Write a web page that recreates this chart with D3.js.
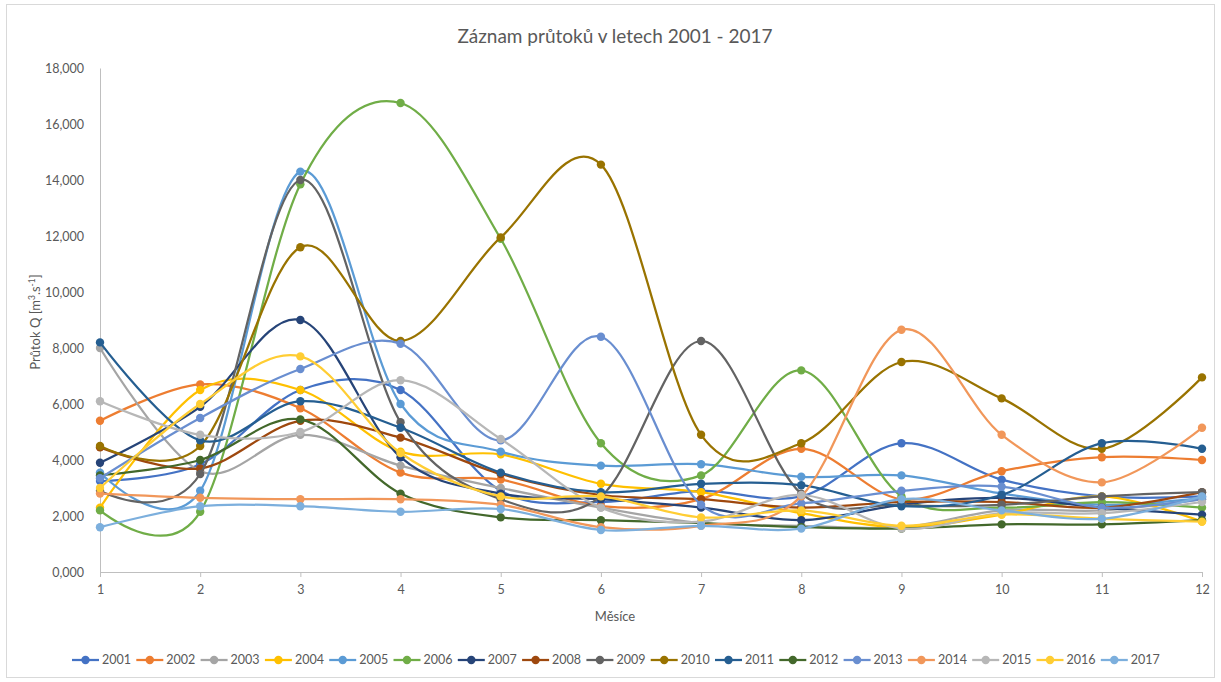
<!DOCTYPE html>
<html><head><meta charset="utf-8">
<script src="https://cdn.jsdelivr.net/npm/d3@7"></script>
<style>
body{margin:0;background:#fff}
svg{display:block}
text{font-family:Lato,"Open Sans",sans-serif}
</style>
</head><body>
<svg id="c" width="1221" height="682"></svg>
<script>
// ---- data ----
const months = [1,2,3,4,5,6,7,8,9,10,11,12];
const yTicks = [0,2,4,6,8,10,12,14,16,18];
const years = ["2001","2002","2003","2004","2005","2006","2007","2008","2009","2010","2011","2012","2013","2014","2015","2016","2017"];
const s2001 = [3.25, 3.85, 6.5, 6.5, 2.9, 2.5, 2.9, 2.7, 4.6, 3.3, 2.7, 2.7];
const s2002 = [5.4, 6.7, 5.85, 3.55, 3.3, 2.35, 2.6, 4.4, 2.6, 3.6, 4.1, 4.0];
const s2003 = [8.0, 3.6, 4.9, 3.8, 3.0, 2.3, 1.75, 1.65, 1.6, 2.2, 2.2, 2.6];
const s2004 = [2.3, 6.5, 6.5, 4.3, 4.2, 3.15, 2.85, 2.1, 1.6, 2.05, 2.7, 1.8];
const s2005 = [3.55, 2.9, 14.3, 6.0, 4.3, 3.8, 3.85, 3.4, 3.45, 2.8, 2.4, 2.65];
const s2006 = [2.2, 2.15, 13.85, 16.75, 11.9, 4.6, 3.45, 7.2, 2.7, 2.3, 2.5, 2.3];
const s2007 = [3.9, 5.9, 9.0, 4.1, 2.8, 2.6, 2.3, 1.85, 2.4, 2.65, 2.3, 2.05];
const s2008 = [4.45, 3.7, 5.4, 4.8, 3.5, 2.75, 2.6, 2.3, 2.5, 2.5, 2.3, 2.85];
const s2009 = [2.9, 3.5, 14.0, 5.35, 2.6, 2.7, 8.25, 2.8, 2.4, 2.4, 2.7, 2.85];
const s2010 = [4.5, 4.5, 11.6, 8.25, 11.95, 14.55, 4.9, 4.6, 7.5, 6.2, 4.4, 6.95];
const s2011 = [8.2, 4.7, 6.1, 5.15, 3.55, 2.85, 3.15, 3.1, 2.35, 2.75, 4.6, 4.4];
const s2012 = [3.45, 4.0, 5.45, 2.8, 1.95, 1.85, 1.75, 1.6, 1.55, 1.7, 1.7, 1.85];
const s2013 = [3.35, 5.5, 7.25, 8.15, 4.7, 8.4, 2.4, 2.45, 2.9, 3.05, 2.3, 2.6];
const s2014 = [2.8, 2.65, 2.6, 2.6, 2.4, 1.6, 1.65, 2.7, 8.65, 4.9, 3.2, 5.15];
const s2015 = [6.1, 4.9, 5.0, 6.85, 4.75, 2.3, 1.8, 2.75, 1.55, 2.1, 2.1, 2.5];
const s2016 = [3.0, 6.0, 7.7, 4.25, 2.7, 2.7, 1.95, 2.2, 1.65, 2.05, 1.9, 1.8];
const s2017 = [1.6, 2.35, 2.35, 2.15, 2.25, 1.5, 1.65, 1.55, 2.6, 2.2, 1.9, 2.7];
const seriesValues = [s2001,s2002,s2003,s2004,s2005,s2006,s2007,s2008,s2009,s2010,s2011,s2012,s2013,s2014,s2015,s2016,s2017];
const colors = ["#4472C4","#ED7D31","#A5A5A5","#FFC000","#5B9BD5","#70AD47","#264478","#9E480E","#636363","#997300","#255E91","#43682B","#698ED0","#F1975A","#B7B7B7","#FFCD33","#7CAFDD"];

// ---- chart ----
const svg = d3.select("#c");
const W = 1221, H = 682;
svg.append("rect").attr("x",6.5).attr("y",4.5).attr("width",1208).attr("height",673)
  .attr("fill","#fff").attr("stroke","#D9D9D9");

const x = d3.scaleLinear().domain([1,12]).range([100,1202]);
const y = d3.scaleLinear().domain([0,18]).range([572,68]);
const cz = d3.formatLocale({decimal:",", thousands:"\u00a0", grouping:[3], currency:["","\u00a0Kč"]});
const fmt = cz.format(".3f");

// title
svg.append("text").attr("x",615).attr("y",43).attr("text-anchor","middle")
  .attr("font-size",19).attr("fill","#595959").text("Záznam průtoků v letech 2001 - 2017");

// y axis
const yAxis = svg.append("g").attr("transform","translate(100,0)")
  .call(d3.axisLeft(y).tickValues(yTicks).tickFormat(fmt).tickSize(0).tickPadding(16));
yAxis.select(".domain").attr("stroke","#BFBFBF");
yAxis.selectAll("text").attr("font-size",12.5).attr("fill","#595959").attr("font-family","Lato, sans-serif");

// x axis
const xAxis = svg.append("g").attr("transform","translate(0,572)")
  .call(d3.axisBottom(x).tickValues(months).tickFormat(d3.format("d")).tickSize(5).tickSizeOuter(0).tickPadding(8));
xAxis.select(".domain").attr("stroke","#BFBFBF");
xAxis.selectAll("line").attr("stroke","#BFBFBF");
xAxis.selectAll("text").attr("font-size",12.5).attr("fill","#595959").attr("font-family","Lato, sans-serif");

// axis titles
const yt = svg.append("text").attr("transform","translate(40,322) rotate(-90)")
  .attr("text-anchor","middle").attr("font-size",13).attr("fill","#595959");
yt.append("tspan").text("Průtok Q [m");
yt.append("tspan").attr("dy",-5).attr("font-size",8.5).text("3");
yt.append("tspan").attr("dy",5).text(".s");
yt.append("tspan").attr("dy",-5).attr("font-size",8.5).text("-1");
yt.append("tspan").attr("dy",5).text("]");

svg.append("text").attr("x",615).attr("y",621).attr("text-anchor","middle")
  .attr("font-size",13).attr("fill","#595959").text("Měsíce");

// series
const line = d3.line().x((d,i)=>x(months[i])).y(d=>y(d)).curve(d3.curveCardinal.tension(0));
const gS = svg.append("g");
seriesValues.forEach((vals,k)=>{
  const g = gS.append("g");
  g.append("path").datum(vals).attr("d",line).attr("fill","none")
    .attr("stroke",colors[k]).attr("stroke-width",2.25);
  g.selectAll("circle").data(vals).join("circle")
    .attr("cx",(d,i)=>x(months[i])).attr("cy",d=>y(d)).attr("r",4.2)
    .attr("fill",colors[k]);
});

// legend
const lg = svg.append("g");
years.forEach((name,k)=>{
  const x0 = 72 + k*64.3;
  const g = lg.append("g").attr("transform",`translate(${x0},660)`);
  g.append("line").attr("x1",0).attr("x2",27).attr("stroke",colors[k]).attr("stroke-width",2.25);
  g.append("circle").attr("cx",13.5).attr("r",4.2).attr("fill",colors[k]);
  g.append("text").attr("x",30).attr("dy","0.35em").attr("font-size",12.5)
    .attr("fill","#595959").text(name);
});
</script>
</body></html>
